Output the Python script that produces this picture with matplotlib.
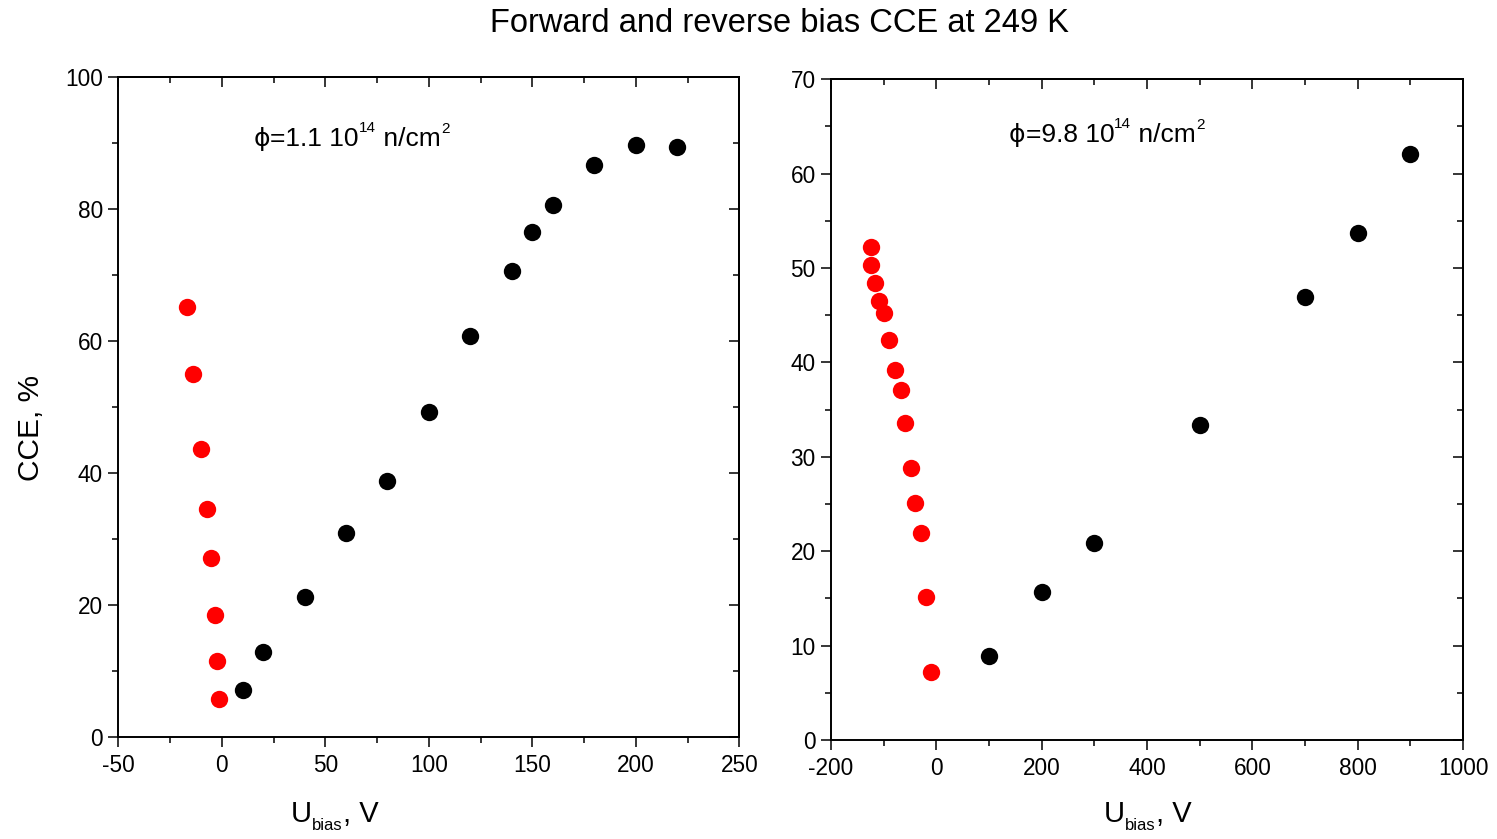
import matplotlib
matplotlib.use("Agg")
import matplotlib.pyplot as plt
from matplotlib.ticker import MultipleLocator
from matplotlib.transforms import IdentityTransform

plt.rcParams['font.family'] = ['Liberation Sans', 'DejaVu Sans']
plt.rcParams['axes.unicode_minus'] = False

# ---- data: left panel (phi = 1.1e14 n/cm^2) ----
left_fwd_u = [10, 20, 40, 60, 80, 100, 120, 140, 150, 160, 180, 200, 220]
left_fwd_cce = [7.1, 13.0, 21.3, 30.9, 38.9, 49.3, 60.8, 70.7, 76.6, 80.6, 86.7, 89.7, 89.4]
left_rev_u = [-17.0, -13.9, -10.2, -7.2, -5.2, -3.3, -2.3, -1.3]
left_rev_cce = [65.2, 55.1, 43.7, 34.6, 27.1, 18.5, 11.5, 5.8]

# ---- data: right panel (phi = 9.8e14 n/cm^2) ----
right_fwd_u = [100, 200, 300, 500, 700, 800, 900]
right_fwd_cce = [8.9, 15.7, 20.9, 33.4, 46.9, 53.7, 62.1]
right_rev_u = [-125, -125, -116, -108, -99, -89, -78, -68, -59, -49, -40, -29, -19, -10]
right_rev_cce = [52.2, 50.3, 48.4, 46.5, 45.2, 42.4, 39.2, 37.1, 33.6, 28.8, 25.1, 21.9, 15.2, 7.2]

title = "Forward and reverse bias CCE at 249 K"
left_note = ["\u03d5", "=1.1 10", "14", " n/cm", "2"]
right_note = ["\u03d5", "=9.8 10", "14", " n/cm", "2"]
xlabel_parts = ["U", "bias", ", V"]
ylabel = "CCE, %"

W, H = 1497, 839
fig = plt.figure(figsize=(W / 100, H / 100), dpi=100)
renderer = fig.canvas.get_renderer()

def box(l, r, t, b):
    return [l / W, 1 - b / H, (r - l) / W, (b - t) / H]

axL = fig.add_axes(box(118.3, 739.3, 77.3, 737.3))
axR = fig.add_axes(box(831, 1463, 79.3, 740))

ms = 12.5
TICK = 16.3

def style(ax, xlim, ylim, xmaj, xmin, ymaj, ymin):
    ax.set_xlim(*xlim)
    ax.set_ylim(*ylim)
    ax.xaxis.set_major_locator(MultipleLocator(xmaj))
    ax.xaxis.set_minor_locator(MultipleLocator(xmin))
    ax.yaxis.set_major_locator(MultipleLocator(ymaj))
    ax.yaxis.set_minor_locator(MultipleLocator(ymin))
    for s in ax.spines.values():
        s.set_linewidth(1.4)
    ax.tick_params(which='both', direction='out', labelsize=TICK, width=1.1)
    ax.tick_params(axis='x', pad=5)
    ax.tick_params(axis='y', pad=4)
    ax.tick_params(which='major', length=7)
    ax.tick_params(which='minor', length=4)
    top = ax.secondary_xaxis('top')
    top.xaxis.set_major_locator(MultipleLocator(xmaj))
    top.xaxis.set_minor_locator(MultipleLocator(xmin))
    top.tick_params(which='both', direction='in', labeltop=False, width=1.1)
    top.tick_params(which='major', length=7)
    top.tick_params(which='minor', length=4)
    top.spines['top'].set_linewidth(1.4)
    right = ax.secondary_yaxis('right')
    right.yaxis.set_major_locator(MultipleLocator(ymaj))
    right.yaxis.set_minor_locator(MultipleLocator(ymin))
    right.tick_params(which='both', direction='in', labelright=False, width=1.1)
    right.tick_params(which='major', length=7)
    right.tick_params(which='minor', length=4)
    right.spines['right'].set_linewidth(1.4)

def chain(x_px, y_px, pieces):
    """Draw text pieces one after another on a common baseline (display px)."""
    cur = x_px
    for piece in pieces:
        s, size, rise = piece[:3]
        fam = piece[3] if len(piece) > 3 else None
        kw = {'family': fam} if fam else {}
        t = fig.text(cur, H - y_px + rise, s, transform=IdentityTransform(),
                     fontsize=size, ha='left', va='baseline', **kw)
        cur = t.get_window_extent(renderer).x1
    return cur

axL.plot(left_fwd_u, left_fwd_cce, 'o', color='black', ms=ms, mec='none', ls='none')
axL.plot(left_rev_u, left_rev_cce, 'o', color='#ff0000', ms=ms, mec='none', ls='none')
style(axL, (-50, 250), (0, 100), 50, 25, 20, 10)

axR.plot(right_fwd_u, right_fwd_cce, 'o', color='black', ms=ms, mec='none', ls='none')
axR.plot(right_rev_u, right_rev_cce, 'o', color='#ff0000', ms=ms, mec='none', ls='none')
style(axR, (-200, 1000), (0, 70), 200, 100, 10, 5)

# y label
axL.set_ylabel(ylabel, fontsize=21.5)
axL.yaxis.set_label_coords(-0.118, 0.469)

# x labels built from pieces (large U, small lowered subscript)
BIG, SUB = 21, 12
chain(291, 822, [(xlabel_parts[0], BIG, 0), (xlabel_parts[1], SUB, -8), (xlabel_parts[2], BIG, 0)])
chain(1104, 822, [(xlabel_parts[0], BIG, 0), (xlabel_parts[1], SUB, -8), (xlabel_parts[2], BIG, 0)])

# annotations with superscripts
MAIN, SUP = 19, 11
for x0, y0, note in [(254, 146, left_note), (1009, 142, right_note)]:
    chain(x0, y0, [(note[0], MAIN - 1, 0, 'DejaVu Sans'), (note[1], MAIN, 0),
                   (note[2], SUP, 14), (note[3], MAIN, 0), (note[4], SUP, 13)])

fig.text(0.5204, 1 - 23 / H, title, ha='center', va='center', fontsize=23.5)

fig.savefig("out.png", dpi=100)
